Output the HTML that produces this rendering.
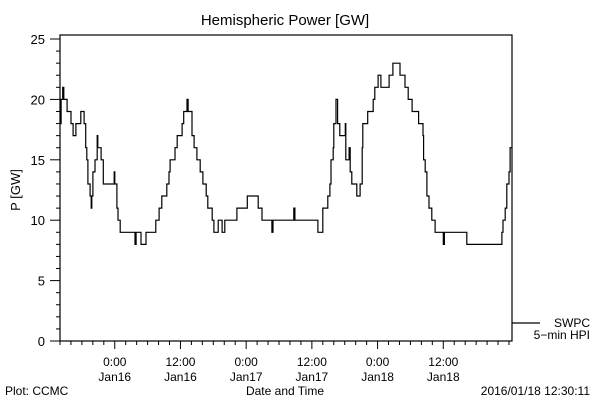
<!DOCTYPE html>
<html><head><meta charset="utf-8"><style>
body{margin:0;background:#fff}
svg text{font-family:"Liberation Sans",sans-serif;fill:#000}
</style></head><body>
<svg width="600" height="400" viewBox="0 0 600 400" xmlns="http://www.w3.org/2000/svg">
<rect width="600" height="400" fill="#fff"/>
<text x="285" y="25" font-size="15" text-anchor="middle">Hemispheric Power [GW]</text>
<text transform="translate(20,190) rotate(-90)" font-size="13" text-anchor="middle">P [GW]</text>
<rect x="60" y="35" width="452" height="306" fill="none" stroke="#000" stroke-width="1.2"/>
<g id="yaxis"></g>
<g id="xaxis"></g>
<polyline id="series" fill="none" stroke="#000" stroke-width="1.2"/>
<line x1="512" y1="323" x2="540" y2="323" stroke="#000" stroke-width="1.2"/>
<text x="590" y="327" font-size="12" text-anchor="end">SWPC</text>
<text x="590" y="339" font-size="12" text-anchor="end">5−min HPI</text>
<text x="5" y="395" font-size="12">Plot: CCMC</text>
<text x="285" y="395" font-size="12" text-anchor="middle">Date and Time</text>
<text x="590" y="395" font-size="12" text-anchor="end">2016/01/18 12:30:11</text>
</svg>
<script>
// step series: value holds from times[i] until times[i+1]; hours since Jan15 14:00
const times=[0,0.2,0.5,0.7,1.3,2.0,2.4,2.9,3.8,4.4,4.7,4.9,5.1,5.5,5.7,5.8,6.0,6.4,6.8,6.9,7.5,7.9,9.9,10.0,10.4,10.6,11.0,13.7,13.9,14.8,15.7,17.5,18.1,18.6,19.5,19.9,20.1,21.0,21.4,22.3,22.6,23.2,23.4,24.1,24.5,25.0,25.6,26.1,26.7,27.0,27.8,28.1,28.9,29.6,30.1,32.3,34.2,36.2,36.9,38.7,38.9,42.7,42.9,47.1,48.0,48.9,49.3,49.5,49.9,50.0,50.4,50.7,51.1,52.1,52.2,52.8,53.0,53.3,54.2,54.8,55.2,55.3,56.2,57.2,57.5,58.1,58.6,60.1,60.8,62.1,63.0,63.6,64.3,65.5,66.3,66.4,66.7,67.0,67.4,67.9,68.5,70.0,70.2,74.3,80.7,80.9,81.3,81.6,82.0,82.2];
const values=[18,20,21,20,19,18,17,18,19,18,16,15,13,12,11,12,14,15,17,16,15,13,14,13,11,10,9,8,9,8,9,10,11,12,13,14,15,16,17,18,19,20,19,17,16,15,14,13,12,11,10,9,10,9,10,11,12,11,10,9,10,11,10,9,11,12,13,15,16,18,20,18,17,18,15,16,14,13,12,13,16,18,19,20,21,22,21,22,23,22,21,20,19,18,17,15,14,12,11,10,9,8,9,8,9,10,11,13,14,16];
const endHour=82.55;
const yTicks=[0,5,10,15,20,25];
const xTickHours=[10,22,34,46,58,70];
const xTickTimes=["0:00","12:00","0:00","12:00","0:00","12:00"];
const xTickDays=["Jan16","Jan16","Jan17","Jan17","Jan18","Jan18"];
const NS="http://www.w3.org/2000/svg";
const X0=60,X1=512,H0=0,H1=82.55,Y0=341,Y1=39,V0=0,V1=25;
const sx=h=>X0+(h-H0)*(X1-X0)/(H1-H0);
const sy=v=>Y0-(v-V0)*(Y0-Y1)/(V1-V0);
function mk(tag,at,parent){const e=document.createElementNS(NS,tag);for(const k in at)e.setAttribute(k,at[k]);parent.appendChild(e);return e;}
const ya=document.getElementById('yaxis'),xa=document.getElementById('xaxis');
for(let v=0;v<=25;v++){
  const major=v%5===0;
  const t=mk('line',{x1:major?50:56,x2:60,y1:sy(v),y2:sy(v),stroke:'#000','stroke-width':1},ya);
  
  
}
yTicks.forEach(v=>{
  const t=mk('text',{x:45,y:sy(v)+5,'font-size':13,'text-anchor':'end'},ya);
  t.textContent=v;
  
  
});
for(let h=0;h<=82;h+=2){
  const major=xTickHours.includes(h);
  const t=mk('line',{x1:sx(h),x2:sx(h),y1:341,y2:major?349:345,stroke:'#000','stroke-width':1},xa);
  
  
}
xTickHours.forEach((h,i)=>{
  const a=mk('text',{x:sx(h),y:366,'font-size':12,'text-anchor':'middle'},xa);
  a.textContent=xTickTimes[i];
  
  
  const b=mk('text',{x:sx(h),y:381,'font-size':12,'text-anchor':'middle'},xa);
  b.textContent=xTickDays[i];
  
  
});
const pts=[];
const n=Math.min(times.length,values.length);
for(let i=0;i<n;i++){
  const next=i+1<n?times[i+1]:endHour;
  pts.push(sx(times[i]).toFixed(1)+','+sy(values[i]).toFixed(1));
  pts.push(sx(next).toFixed(1)+','+sy(values[i]).toFixed(1));
}
document.getElementById('series').setAttribute('points',pts.join(' '));
</script>
</body></html>
